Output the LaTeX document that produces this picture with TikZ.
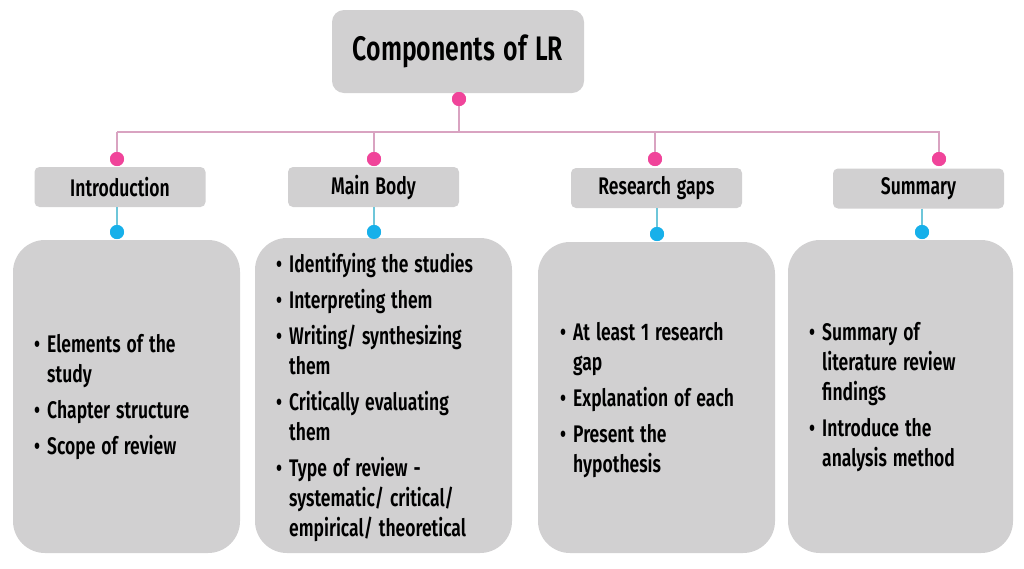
\documentclass[tikz,border=0pt]{standalone}
\usepackage{fontspec}
\setmainfont{Fira Sans}[FakeStretch=0.73,UprightFont={* SemiBold},WordSpace=1.4]
\definecolor{boxgray}{HTML}{D1D0D1}
\definecolor{pinkdot}{HTML}{F0449A}
\definecolor{pinkline}{HTML}{D9A3C1}
\definecolor{bluedot}{HTML}{17B0EA}
\definecolor{blueline}{HTML}{6EC6D9}
\newcommand{\bl}{\makebox[13pt][l]{\textbullet}}
\newcommand{\cn}{\hspace*{13pt}}
\tikzset{
  titlebox/.style={draw=none,fill=boxgray,rounded corners=12pt,minimum width=252pt,minimum height=83pt,font=\fontsize{34}{40}\selectfont},
  headbox/.style={draw=none,fill=boxgray,rounded corners=5pt,minimum width=171pt,minimum height=40pt,font=\fontsize{24}{26}\selectfont},
  bodybox/.style={draw=none,fill=boxgray,rounded corners=32pt},
  pdot/.style={circle,fill=pinkdot,inner sep=0pt,minimum size=14pt},
  bdot/.style={circle,fill=bluedot,inner sep=0pt,minimum size=14pt},
  pline/.style={draw=pinkline,line width=1.3pt},
  bline/.style={draw=blueline,line width=1.3pt},
  itemtext/.style={anchor=west,inner sep=0pt,align=left,font=\fontsize{24}{30}\selectfont}
}
\begin{document}
\begin{tikzpicture}[x=1pt,y=-1pt]
\useasboundingbox[fill=white] (0,0) rectangle (1024,568);
% title
\node[titlebox] (title) at (458,51.5) {Components of LR};
\node[pdot] (tdot) at (459,99) {};
\coordinate (bus) at (459,132);
\coordinate (busL) at (117,132);
\coordinate (busR) at (940,132);
% head boxes
\node[headbox] (h1) at (120,187) {Introduction};
\node[headbox] (h2) at (373.5,187) {Main Body};
\node[headbox] (h3) at (656.5,188) {Research gaps};
\node[headbox] (h4) at (918.5,188.5) {Summary};
% pink dots
\node[pdot] (p1) at (117,159) {};
\node[pdot] (p2) at (374,159) {};
\node[pdot] (p3) at (655,159) {};
\node[pdot] (p4) at (939,159) {};
% blue dots
\node[bdot] (b1) at (117,232) {};
\node[bdot] (b2) at (374,232) {};
\node[bdot] (b3) at (657,234) {};
\node[bdot] (b4) at (922,232) {};
% body boxes
\path[bodybox] (13,240) rectangle (240,553);
\path[bodybox] (255,238) rectangle (512,553);
\path[bodybox] (538,242) rectangle (775,553);
\path[bodybox] (788,240) rectangle (1013,553);
% connectors
\draw[pline] (tdot) -- (bus);
\draw[pline] (busL) -- (busR);
\draw[pline] (p1) -- (p1 |- bus);
\draw[pline] (p2) -- (p2 |- bus);
\draw[pline] (p3) -- (p3 |- bus);
\draw[pline] (p4) -- (p4 |- bus);
\draw[bline] (b1 |- h1.south) -- (b1);
\draw[bline] (b2 |- h2.south) -- (b2);
\draw[bline] (b3 |- h3.south) -- (b3);
\draw[bline] (b4 |- h4.south) -- (b4);
% redraw dots over lines
\node[pdot] at (tdot) {};
\node[pdot] at (p1) {};\node[pdot] at (p2) {};\node[pdot] at (p3) {};\node[pdot] at (p4) {};
\node[bdot] at (b1) {};\node[bdot] at (b2) {};\node[bdot] at (b3) {};\node[bdot] at (b4) {};
% texts
\node[itemtext] (t1) at (34,397) {\bl Elements of the\\\cn study\\[6pt]\bl Chapter structure\\[6pt]\bl Scope of review};
\node[itemtext] (t2) at (276,397) {\bl Identifying the studies\\[6pt]\bl Interpreting them\\[6pt]\bl Writing/ synthesizing\\\cn them\\[6pt]\bl Critically evaluating\\\cn them\\[6pt]\bl Type of review -\\\cn systematic/ critical/\\\cn empirical/ theoretical};
\node[itemtext] (t3) at (560,400) {\bl At least 1 research\\\cn gap\\[6pt]\bl Explanation of each\\[6pt]\bl Present the\\\cn hypothesis};
\node[itemtext] (t4) at (809,397) {\bl Summary of\\\cn literature review\\\cn findings\\[6pt]\bl Introduce the\\\cn analysis method};
\end{tikzpicture}
\end{document}
